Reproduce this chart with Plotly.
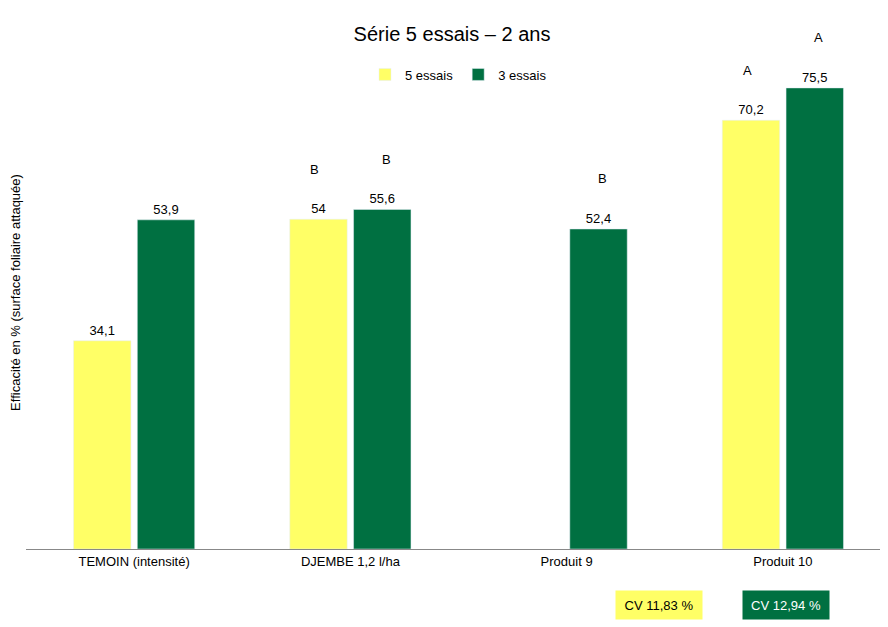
import plotly.graph_objects as go

categories = ["TEMOIN (intensité)", "DJEMBE 1,2 l/ha", "Produit 9", "Produit 10"]
essais5 = [34.1, 54, None, 70.2]
essais3 = [53.9, 55.6, 52.4, 75.5]
letters5 = ["", "B", "", "A"]
letters3 = ["", "B", "B", "A"]

def fmt(v):
    return "" if v is None else str(v).replace(".", ",")

fig = go.Figure()
fig.add_trace(go.Bar(x=categories, y=essais5, name="5 essais", marker_color="#FFFF66",
                     text=[fmt(v) for v in essais5], textposition="outside", cliponaxis=False))
fig.add_trace(go.Bar(x=categories, y=essais3, name="3 essais", marker_color="#007041",
                     text=[fmt(v) for v in essais3], textposition="outside", cliponaxis=False))

# letters above the bars
for i, c in enumerate(categories):
    for vals, lets, off in [(essais5, letters5, -0.165), (essais3, letters3, 0.165)]:
        if lets[i] and vals[i] is not None:
            fig.add_annotation(x=i + off, y=vals[i], text=lets[i], showarrow=False,
                               yshift=50, xref="x", yref="y")

# CV boxes
L, W = 18, 865
fig.add_annotation(x=(695 - L) / W, y=-0.138, xref="paper", yref="paper", text="CV 11,83 %",
                   showarrow=False, bgcolor="#FFFF66", width=84, height=26, font=dict(color="black"))
fig.add_annotation(x=(822 - L) / W, y=-0.138, xref="paper", yref="paper", text="CV 12,94 %",
                   showarrow=False, bgcolor="#007041", width=84, height=26, font=dict(color="white"))

fig.update_layout(
    width=888, height=627,
    margin=dict(l=L, r=888 - L - W, t=28, b=86),
    plot_bgcolor="white", paper_bgcolor="white",
    font=dict(family="Liberation Sans", size=13, color="black"),
    title=dict(text="Série 5 essais – 2 ans", x=0.5, xanchor="center", y=0.958, yanchor="middle",
               font=dict(size=20)),
    legend=dict(orientation="h", x=0.5, xanchor="center", y=0.925, yanchor="middle", font=dict(size=13)),
    bargap=0.41, bargroupgap=0.1,
)
fig.update_xaxes(type="category", showline=True, linecolor="#888888", ticks="", tickfont=dict(size=13))
fig.update_yaxes(range=[0, 84], showticklabels=False, showgrid=False, zeroline=False,
                 title=dict(text="Efficacité en % (surface foliaire attaquée)", font=dict(size=13), standoff=2))

fig.write_html("out.html")
